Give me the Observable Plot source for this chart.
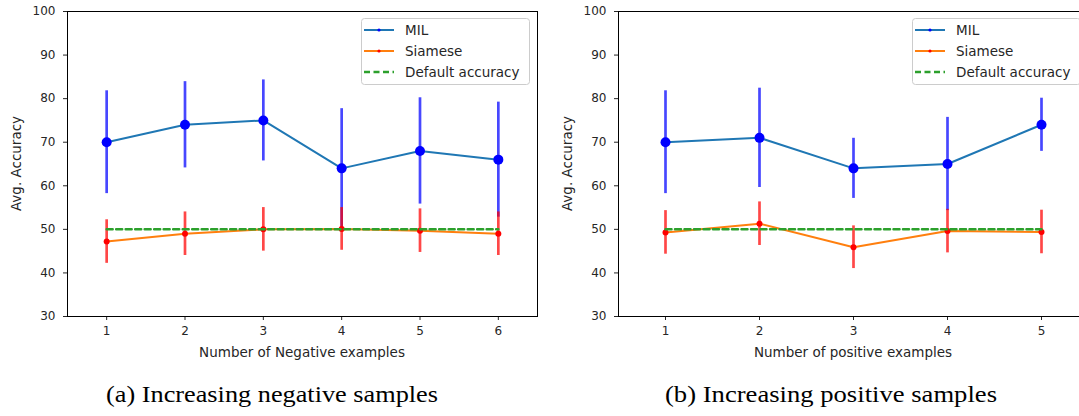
<!DOCTYPE html>
<html>
<head>
<meta charset="utf-8">
<script src="https://cdn.jsdelivr.net/npm/d3@7"></script>
<script src="https://cdn.jsdelivr.net/npm/@observablehq/plot@0.6"></script>
<style>
  html, body { margin: 0; padding: 0; background: #fff; overflow: hidden; }
  #root { position: relative; width: 1079px; height: 416px; overflow: hidden; }
  .panel { position: absolute; top: 0; width: 545px; height: 370px; }
  .panel svg { max-width: none !important; }
  #captions { position: absolute; left: 0; top: 0; }
</style>
</head>
<body>
<div id="root">
  <div class="panel" id="left" style="left:0px"></div>
  <div class="panel" id="right" style="left:551px"></div>
  <svg id="captions" width="1079" height="416"></svg>
</div>
<script>
// ---- data ----
const yTicks = [30, 40, 50, 60, 70, 80, 90, 100];
const defaultAccuracy = 50;

// (a) increasing negative samples
const negX = [1, 2, 3, 4, 5, 6];
const negMIL = [70, 74, 75, 64, 68, 66];
const negMILErr = [11.8, 9.9, 9.3, 13.7, 12.2, 13.2];
const negSiamese = [47.2, 49.0, 50.0, 50.1, 49.7, 49.0];
const negSiameseErr = [5.0, 5.0, 5.0, 4.9, 5.0, 5.0];

// (b) increasing positive samples
const posX = [1, 2, 3, 4, 5];
const posMIL = [70, 71, 64, 65, 74];
const posMILErr = [11.8, 11.4, 6.9, 10.7, 6.1];
const posSiamese = [49.3, 51.3, 45.9, 49.6, 49.4];
const posSiameseErr = [5.0, 5.0, 4.9, 5.0, 5.0];

const seriesNames = ["MIL", "Siamese", "Default accuracy"];
const xLabels = ["Number of Negative examples", "Number of positive examples"];
const yLabel = "Avg. Accuracy";
const captions = ["(a) Increasing negative samples", "(b) Increasing positive samples"];

// ---- styles ----
const C = {mil: "#1f77b4", milBar: "#0000ff", siam: "#ff7f0e", siamBar: "#ff0000", def: "#2ca02c", text: "#262626"};
const W = 545, H = 370, ML = 67, MR = 8, MT = 11, MB = H - 316;

function panel(xs, mil, milErr, siam, siamErr, xlabel) {
  const milData = xs.map((x, i) => ({x, y: mil[i], e: milErr[i]}));
  const siamData = xs.map((x, i) => ({x, y: siam[i], e: siamErr[i]}));
  const defData = [{x: xs[0], y: defaultAccuracy}, {x: xs[xs.length - 1], y: defaultAccuracy}];
  const svg = Plot.plot({
    width: W, height: H,
    marginLeft: ML, marginRight: MR, marginTop: MT, marginBottom: MB,
    style: {fontFamily: "DejaVu Sans", fontSize: "12px", color: C.text, background: "transparent", maxWidth: "none"},
    x: {domain: [xs[0] - 0.5, xs[xs.length - 1] + 0.5]},
    y: {domain: [30, 100]},
    marks: [
      Plot.axisX({ticks: xs, tickFormat: d => String(d), tickSize: 4, tickPadding: 6, label: null, fontSize: 12}),
      Plot.axisY({ticks: yTicks, tickSize: 4, tickPadding: 8, label: null, fontSize: 12}),
      Plot.lineY(milData, {x: "x", y: "y", stroke: C.mil, strokeWidth: 2}),
      Plot.ruleX(milData, {x: "x", y1: d => d.y - d.e, y2: d => d.y + d.e, stroke: C.milBar, strokeOpacity: 0.72, strokeWidth: 2.7}),
      Plot.dot(milData, {x: "x", y: "y", r: 5, fill: C.milBar, stroke: "none"}),
      Plot.lineY(siamData, {x: "x", y: "y", stroke: C.siam, strokeWidth: 2}),
      Plot.ruleX(siamData, {x: "x", y1: d => d.y - d.e, y2: d => d.y + d.e, stroke: C.siamBar, strokeOpacity: 0.72, strokeWidth: 2.7}),
      Plot.dot(siamData, {x: "x", y: "y", r: 3, fill: C.siamBar, stroke: "none"}),
      Plot.lineY(defData, {x: "x", y: "y", stroke: C.def, strokeWidth: 2.5, strokeDasharray: "6,3.5"}),
      Plot.frame({stroke: "#000", strokeWidth: 1})
    ]
  });
  const s = d3.select(svg);
  s.style("overflow", "visible");
  // axis titles
  s.append("text").attr("x", ML + (W - ML - MR) / 2).attr("y", 357)
    .attr("text-anchor", "middle").attr("fill", C.text)
    .style("font-size", "13.5px").text(xlabel);
  s.append("text").attr("transform", `translate(16,${(MT + 316) / 2}) rotate(-90)`)
    .attr("text-anchor", "middle").attr("dominant-baseline", "central").attr("fill", C.text)
    .style("font-size", "13.5px").text(yLabel);
  // legend
  const g = s.append("g").attr("transform", "translate(361,18)").attr("text-anchor", "start");
  g.append("rect").attr("x", 0.5).attr("y", 0.5).attr("width", 168).attr("height", 66).attr("rx", 3)
    .attr("fill", "#fff").attr("fill-opacity", 0.85).attr("stroke", "#cccccc").attr("stroke-width", 1);
  const rows = [
    {name: seriesNames[0], color: C.mil, dot: C.milBar, dash: null},
    {name: seriesNames[1], color: C.siam, dot: C.siamBar, dash: null},
    {name: seriesNames[2], color: C.def, dot: null, dash: "6,3.5"}
  ];
  rows.forEach((r, i) => {
    const y = 12 + i * 21;
    const l = g.append("line").attr("x1", 3).attr("x2", 33).attr("y1", y).attr("y2", y)
      .attr("stroke", r.color).attr("stroke-width", r.dash ? 2.5 : 2);
    if (r.dash) l.attr("stroke-dasharray", r.dash);
    if (r.dot) g.append("circle").attr("cx", 18).attr("cy", y).attr("r", 1.6).attr("fill", r.dot);
    g.append("text").attr("x", 44).attr("y", y).attr("dominant-baseline", "central")
      .attr("text-anchor", "start")
      .attr("fill", C.text).style("font-size", "13.5px").text(r.name);
  });
  return svg;
}

document.getElementById("left").appendChild(panel(negX, negMIL, negMILErr, negSiamese, negSiameseErr, xLabels[0]));
document.getElementById("right").appendChild(panel(posX, posMIL, posMILErr, posSiamese, posSiameseErr, xLabels[1]));

// captions
const cap = d3.select("#captions");
[[272, captions[0]], [831, captions[1]]].forEach(([cx, t]) => {
  cap.append("text").attr("x", cx - 166).attr("y", 402)
    .attr("textLength", 332).attr("lengthAdjust", "spacingAndGlyphs")
    .attr("font-family", "Liberation Serif, Tinos, Times New Roman, Times, serif")
    .attr("font-size", 23)
    .attr("fill", "#000").text(t);
});
</script>
</body>
</html>
